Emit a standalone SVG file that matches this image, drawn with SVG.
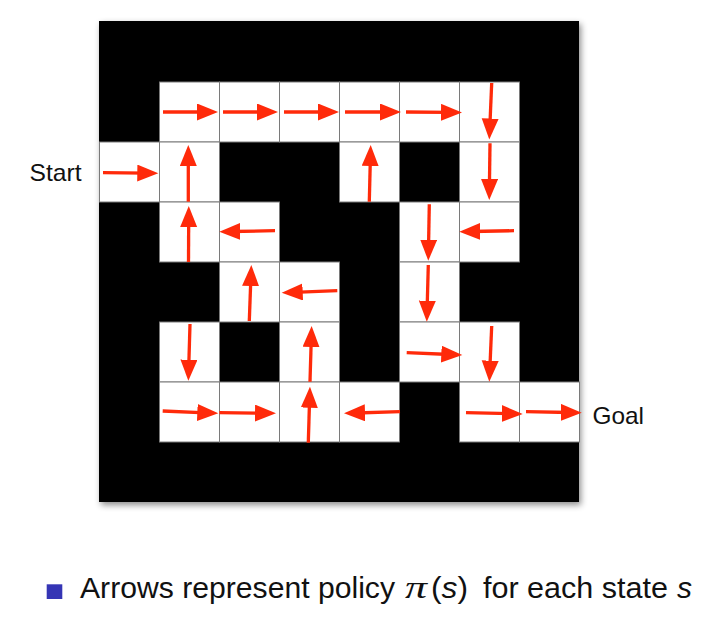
<svg xmlns="http://www.w3.org/2000/svg" width="726" height="624" viewBox="0 0 726 624">
<defs>
<style>
.cell{fill:#ffffff;stroke:#7a7a7a;stroke-width:1}
.arr{stroke:#ff2a0a;stroke-width:3.3;fill:none;marker-end:url(#head)}
.lbl{font-family:"Liberation Sans",Arial,sans-serif;font-size:24px;fill:#111}
.cap{font-family:"Liberation Sans",Arial,sans-serif;font-size:30px;fill:#111}
.math{font-family:"Liberation Serif","Times New Roman",serif;font-style:italic;font-size:32px;fill:#111}
.it{font-style:italic}
</style>
<marker id="head" markerUnits="userSpaceOnUse" markerWidth="22" markerHeight="18" refX="9" refY="8.5" orient="auto" viewBox="0 0 22 18">
<path d="M0,0 L21,8.5 L0,17 Z" fill="#ff2a0a"/>
</marker>
<filter id="sh" x="-10%" y="-10%" width="120%" height="120%">
<feDropShadow dx="2" dy="3" stdDeviation="3" flood-color="#000" flood-opacity="0.45"/>
</filter>
</defs>
<rect width="726" height="624" fill="#ffffff"/>
<rect id="maze" x="99" y="21" width="480" height="481" fill="#000" filter="url(#sh)"/>

<g id="cells">
<g id="r1c1"><rect class="cell" x="159.5" y="82" width="60" height="60"/></g>
<g id="r1c2"><rect class="cell" x="219.5" y="82" width="60" height="60"/></g>
<g id="r1c3"><rect class="cell" x="279.5" y="82" width="60" height="60"/></g>
<g id="r1c4"><rect class="cell" x="339.5" y="82" width="60" height="60"/></g>
<g id="r1c5"><rect class="cell" x="399.5" y="82" width="60" height="60"/></g>
<g id="r1c6"><rect class="cell" x="459.5" y="82" width="60" height="60"/></g>
<g id="r2c0"><rect class="cell" x="99.5" y="142" width="60" height="60"/></g>
<g id="r2c1"><rect class="cell" x="159.5" y="142" width="60" height="60"/></g>
<g id="r2c4"><rect class="cell" x="339.5" y="142" width="60" height="60"/></g>
<g id="r2c6"><rect class="cell" x="459.5" y="142" width="60" height="60"/></g>
<g id="r3c1"><rect class="cell" x="159.5" y="202" width="60" height="60"/></g>
<g id="r3c2"><rect class="cell" x="219.5" y="202" width="60" height="60"/></g>
<g id="r3c5"><rect class="cell" x="399.5" y="202" width="60" height="60"/></g>
<g id="r3c6"><rect class="cell" x="459.5" y="202" width="60" height="60"/></g>
<g id="r4c2"><rect class="cell" x="219.5" y="262" width="60" height="60"/></g>
<g id="r4c3"><rect class="cell" x="279.5" y="262" width="60" height="60"/></g>
<g id="r4c5"><rect class="cell" x="399.5" y="262" width="60" height="60"/></g>
<g id="r5c1"><rect class="cell" x="159.5" y="322" width="60" height="60"/></g>
<g id="r5c3"><rect class="cell" x="279.5" y="322" width="60" height="60"/></g>
<g id="r5c5"><rect class="cell" x="399.5" y="322" width="60" height="60"/></g>
<g id="r5c6"><rect class="cell" x="459.5" y="322" width="60" height="60"/></g>
<g id="r6c1"><rect class="cell" x="159.5" y="382" width="60" height="60"/></g>
<g id="r6c2"><rect class="cell" x="219.5" y="382" width="60" height="60"/></g>
<g id="r6c3"><rect class="cell" x="279.5" y="382" width="60" height="60"/></g>
<g id="r6c4"><rect class="cell" x="339.5" y="382" width="60" height="60"/></g>
<g id="r6c6"><rect class="cell" x="459.5" y="382" width="60" height="60"/></g>
<g id="r6c7"><rect class="cell" x="519.5" y="382" width="60" height="60"/></g>
</g>

<g id="arrows">
<line class="arr" x1="163" y1="112" x2="206" y2="112"/>
<line class="arr" x1="223" y1="112" x2="266" y2="112"/>
<line class="arr" x1="284" y1="112" x2="327" y2="112"/>
<line class="arr" x1="345" y1="112" x2="389" y2="112"/>
<line class="arr" x1="406" y1="112" x2="450" y2="112.4"/>
<line class="arr" x1="491.7" y1="83" x2="489.8" y2="127.5"/>
<line class="arr" x1="103" y1="172.7" x2="146.3" y2="173.2"/>
<line class="arr" x1="188.3" y1="201.7" x2="188.3" y2="157"/>
<line class="arr" x1="369.3" y1="201.7" x2="370.4" y2="157"/>
<line class="arr" x1="490" y1="143.3" x2="489.4" y2="188"/>
<line class="arr" x1="188.5" y1="262" x2="188.7" y2="218"/>
<line class="arr" x1="275" y1="230.7" x2="231.3" y2="231.5"/>
<line class="arr" x1="429.3" y1="204.3" x2="428.5" y2="248.7"/>
<line class="arr" x1="514" y1="230.7" x2="471.3" y2="231.5"/>
<line class="arr" x1="249.3" y1="321" x2="250.9" y2="277"/>
<line class="arr" x1="337.3" y1="290.7" x2="293.7" y2="292.3"/>
<line class="arr" x1="428.3" y1="265" x2="427.1" y2="309.7"/>
<line class="arr" x1="190" y1="324" x2="188.7" y2="368.7"/>
<line class="arr" x1="310" y1="381.7" x2="311.3" y2="338"/>
<line class="arr" x1="406.7" y1="352.7" x2="450.3" y2="354.5"/>
<line class="arr" x1="491.7" y1="326" x2="489.8" y2="369.7"/>
<line class="arr" x1="162.7" y1="411" x2="206.3" y2="412.8"/>
<line class="arr" x1="219.3" y1="412.7" x2="264" y2="413.2"/>
<line class="arr" x1="308.3" y1="442.7" x2="309.6" y2="398.7"/>
<line class="arr" x1="400" y1="411.7" x2="356" y2="413"/>
<line class="arr" x1="466" y1="412.7" x2="510.7" y2="413.7"/>
<line class="arr" x1="526" y1="411.7" x2="569.7" y2="412.5"/>
</g>

<g id="labels">
<text class="lbl" x="29.5" y="181" textLength="52" lengthAdjust="spacingAndGlyphs">Start</text>
<text class="lbl" x="592.5" y="424" textLength="51.5" lengthAdjust="spacingAndGlyphs">Goal</text>
</g>

<g id="caption">
<rect x="46.7" y="584.3" width="15.6" height="14.7" fill="#3535b5"/>
<text class="cap" x="80" y="598" textLength="315" lengthAdjust="spacingAndGlyphs">Arrows represent policy</text>
<text class="math" x="405" y="598" textLength="22" lengthAdjust="spacingAndGlyphs">π</text>
<text class="cap" x="431" y="598" textLength="37" lengthAdjust="spacingAndGlyphs">(<tspan class="it">s</tspan>)</text>
<text class="cap" x="483" y="598" textLength="185" lengthAdjust="spacingAndGlyphs">for each state</text>
<text class="cap it" x="677" y="598">s</text>
</g>
</svg>
